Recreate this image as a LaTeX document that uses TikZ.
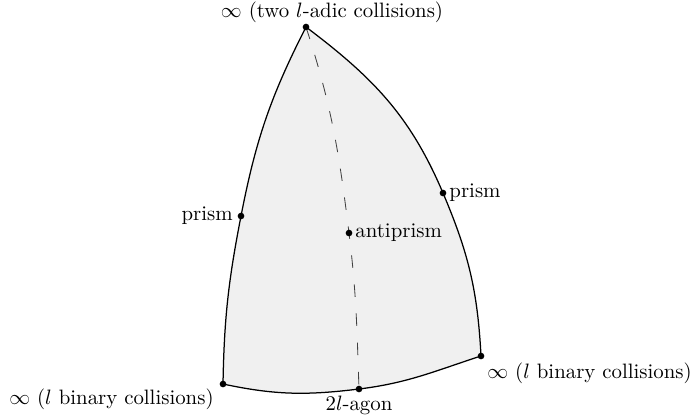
\documentclass[tikz,border=0pt]{standalone}
\usepackage{amsmath}
\usepackage{tikz}
\usetikzlibrary{positioning}

\tikzset{
  vertex/.style={circle, fill=black, inner sep=0pt, minimum size=3.2pt},
  lab/.style={inner sep=1.5pt},
  region/.style={fill=black!6, draw=black, line width=0.6pt},
  axis/.style={draw=black!75, line width=0.4pt, dash pattern=on 6pt off 8pt},
}

\begin{document}
\begin{tikzpicture}[x=0.48pt,y=0.48pt]
\useasboundingbox (0,0) rectangle (694,-419);
\coordinate (top) at (306,-27);
\coordinate (lprism) at (241,-216);
\coordinate (bl) at (223,-384);
\coordinate (agon) at (359,-389);
\coordinate (br) at (481,-356);
\coordinate (rprism) at (443,-193);
\coordinate (anti) at (349,-233);
% the shaded cell
\filldraw[region] (top) to[out=243,in=79] (lprism) to[out=259,in=89] (bl)
  to[out=-12,in=187] (agon) to[out=7,in=198] (br)
  to[out=93,in=293] (rprism) to[out=113,in=-37] (top) -- cycle;
\draw[axis] (top) to[out=-72,in=97] (anti) to[out=-83,in=92] (agon);
\foreach \p in {top,lprism,bl,agon,br,rprism,anti}{
  \node[vertex] (\p-dot) at (\p) {};
}
\node[lab, inner sep=0.5pt, above=1.2pt of top, xshift=12.5pt] (toplab) {$\infty$ (two $l$-adic collisions)};
\node[lab, left=2.3pt of lprism] (lprismlab) {prism};
\node[lab, right=1.4pt of rprism] (rprismlab) {prism};
\node[lab, right=1.4pt of anti] (antilab) {antiprism};
\node[lab, below right=1.4pt and 1.4pt of br] (brlab) {$\infty$ ($l$ binary collisions)};
\node[lab, below left=0.5pt and 2.8pt of bl] (bllab) {$\infty$ ($l$ binary collisions)};
\node[lab, below=1.9pt of agon] (agonlab) {$2l$-agon};
\end{tikzpicture}
\end{document}
